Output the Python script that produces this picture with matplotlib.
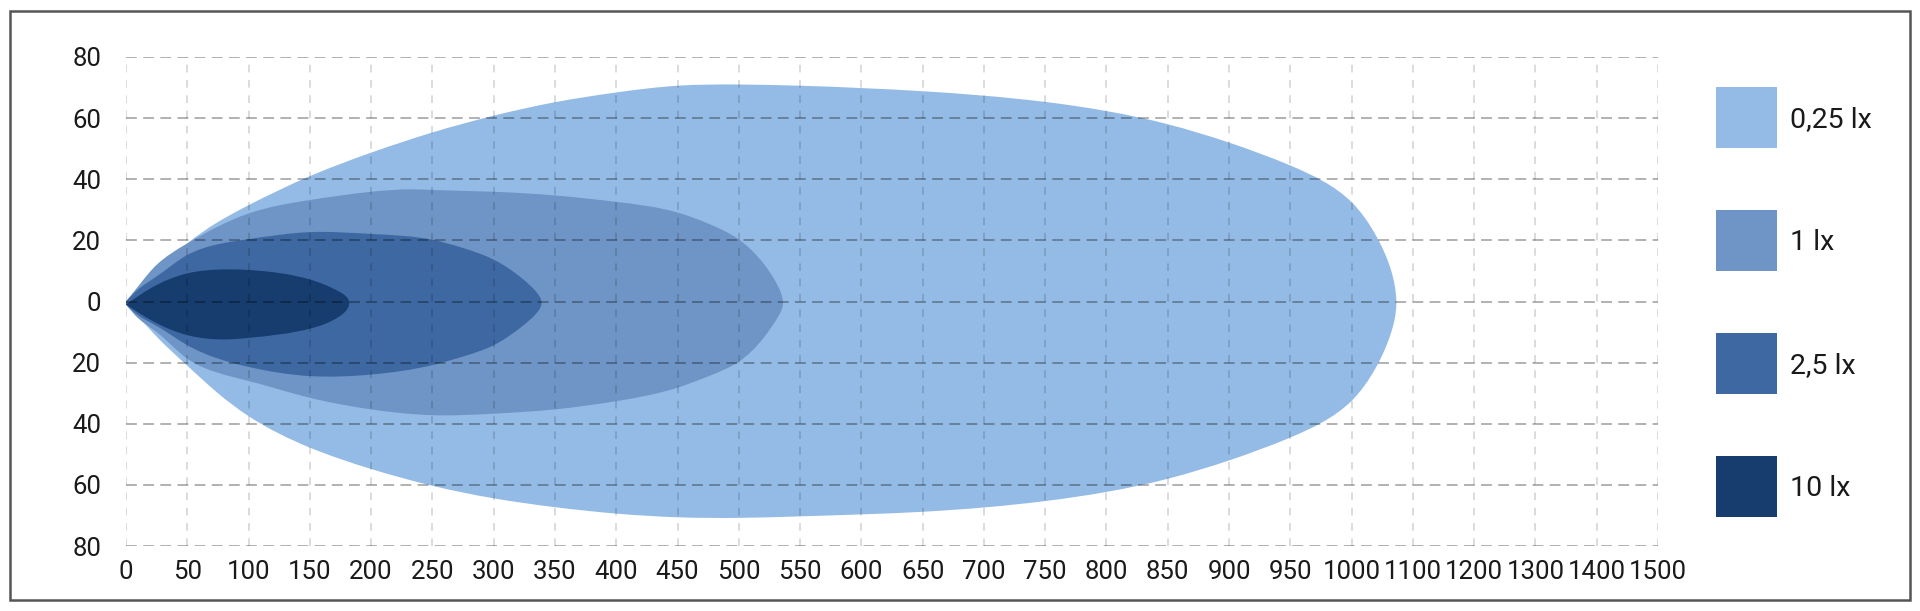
import numpy as np
import matplotlib
matplotlib.use("Agg")
import matplotlib.pyplot as plt
from matplotlib.patches import Rectangle, PathPatch
from matplotlib.path import Path

# ---------------- data ----------------
levels = ["0,25 lx", "1 lx", "2,5 lx", "10 lx"]
colors = ["#94bbe5", "#6e95c5", "#3d68a1", "#173c6e"]

# 0,25 lx isolux contour
lx025_top_x = [0, 10, 25, 50, 75, 100, 150, 200, 250, 300, 350, 400, 450, 500, 550, 650,
               750, 850, 900, 950, 1000, 1040, 1064, 1073]
lx025_top_y = [0, 4.5, 10, 19, 26, 31.5, 41, 48.7, 55.3, 60.8, 65.2, 68.4, 70.6, 71, 70.6, 68.8,
               65.3, 58.0, 52.0, 44.5, 32.5, 21.5, 10.5, 0]
lx025_bot_x = [0, 10, 25, 50, 75, 100, 150, 200, 250, 300, 350, 400, 450, 500, 550, 650,
               750, 850, 900, 950, 1000, 1040, 1064, 1073]
lx025_bot_y = [-1, -5, -11.5, -21, -30, -37.5, -47.8, -54.8, -60.3, -64.4, -67.3, -69.4, -70.6, -70.8, -70.3, -68.8,
               -65.3, -58.0, -52.0, -44.5, -32.5, -21.5, -10.5, -1]

# 1 lx isolux contour
lx1_top_x = [0, 10, 25, 50, 100, 150, 200, 233, 250, 300, 350, 400, 450, 475, 500, 520, 532, 536]
lx1_top_y = [0, 5, 12, 19, 28.8, 33.2, 35.9, 36.7, 36.5, 35.9, 34.7, 32.6, 29.1, 25.5, 20.3, 12.5, 5, 0]
lx1_bot_x = [0, 10, 25, 50, 100, 150, 200, 250, 300, 350, 400, 450, 475, 500, 520, 532, 536]
lx1_bot_y = [-1, -5.5, -10, -18.7, -26, -31.5, -35.3, -37.2, -36.7, -35.3, -32.6, -28.2, -24.5, -19.7, -12, -5, -1]

# 2,5 lx isolux contour
lx25_top_x = [0, 10, 25, 50, 100, 150, 200, 250, 275, 300, 323, 335, 339]
lx25_top_y = [0, 4, 8.2, 15.2, 20.4, 22.7, 22.1, 20.2, 17.5, 13.7, 7.6, 3, 0]
lx25_bot_x = [0, 10, 25, 50, 100, 150, 200, 250, 275, 300, 323, 335, 339]
lx25_bot_y = [-1, -4.5, -8, -14.3, -21.4, -24.4, -23.9, -20.8, -18, -14.3, -8.2, -3.8, -0.8]

# 10 lx isolux contour
lx10_top_x = [0, 20, 50, 82, 100, 150, 174, 182]
lx10_top_y = [-1, 4.3, 9.2, 10.5, 10.3, 7.2, 3.2, 0]
lx10_bot_x = [0, 20, 50, 82, 100, 150, 174, 182]
lx10_bot_y = [-1, -6, -11, -12.4, -11.9, -8.9, -4.9, -1]

x_ticks = [0, 50, 100, 150, 200, 250, 300, 350, 400, 450, 500, 550, 600, 650, 700, 750, 800,
           850, 900, 950, 1000, 1100, 1200, 1300, 1400, 1500]
y_ticks = [80, 60, 40, 20, 0, -20, -40, -60, -80]
y_tick_labels = ["80", "60", "40", "20", "0", "20", "40", "60", "80"]

contours = [
    (lx025_top_x, lx025_top_y, lx025_bot_x, lx025_bot_y),
    (lx1_top_x, lx1_top_y, lx1_bot_x, lx1_bot_y),
    (lx25_top_x, lx25_top_y, lx25_bot_x, lx25_bot_y),
    (lx10_top_x, lx10_top_y, lx10_bot_x, lx10_bot_y),
]


def fwd(x):
    x = np.asarray(x, dtype=float)
    return np.where(x <= 1000, x, 1000 + (x - 1000) / 2.0)


def inv(x):
    x = np.asarray(x, dtype=float)
    return np.where(x <= 1000, x, 1000 + (x - 1000) * 2.0)


Y_ASPECT = 3.056 / 1.2256  # pixel size of one y unit relative to one x unit


def spline_derivs(t, v):
    """First derivatives at the knots of a natural cubic spline through (t, v)."""
    n = len(t)
    h = np.diff(t)
    A = np.zeros((n, n))
    r = np.zeros(n)
    A[0, 0] = A[-1, -1] = 1.0
    for i in range(1, n - 1):
        A[i, i - 1] = h[i - 1]
        A[i, i] = 2 * (h[i - 1] + h[i])
        A[i, i + 1] = h[i]
        r[i] = 6 * ((v[i + 1] - v[i]) / h[i] - (v[i] - v[i - 1]) / h[i - 1])
    M = np.linalg.solve(A, r)
    d = np.zeros(n)
    d[:-1] = (v[1:] - v[:-1]) / h - h * (2 * M[:-1] + M[1:]) / 6
    d[-1] = (v[-1] - v[-2]) / h[-1] + h[-1] * (M[-2] + 2 * M[-1]) / 6
    return d


def smooth_path(xs, ys):
    """Smooth closed outline through the read points (natural cubic spline as Beziers)."""
    p = np.column_stack([fwd(xs), np.asarray(ys, float)])
    q = p * np.array([1.0, Y_ASPECT])
    t = np.concatenate([[0], np.cumsum(np.sqrt(((q[1:] - q[:-1]) ** 2).sum(axis=1)))])
    dx = spline_derivs(t, p[:, 0])
    dy = spline_derivs(t, p[:, 1])
    tang = np.column_stack([dx, dy])
    verts = [p[0]]
    codes = [Path.MOVETO]
    for i in range(len(p) - 1):
        h = t[i + 1] - t[i]
        verts += [p[i] + tang[i] * h / 3.0, p[i + 1] - tang[i + 1] * h / 3.0, p[i + 1]]
        codes += [Path.CURVE4] * 3
    verts.append(p[0])
    codes.append(Path.CLOSEPOLY)
    v = np.array(verts)
    v[:, 0] = inv(v[:, 0])
    return Path(v, codes)


# ---------------- figure ----------------
plt.rcParams['font.family'] = ['Roboto', 'DejaVu Sans']
fig = plt.figure(figsize=(19.2, 6.11), dpi=100)
ax = fig.add_axes([126 / 1920, 65 / 611, 1532 / 1920, 489 / 611])
ax.set_xscale('function', functions=(fwd, inv))

for (tx, ty, bx, by), col in zip(contours, colors):
    xs = list(tx) + list(bx[::-1])
    ys = list(ty) + list(by[::-1])
    ax.add_patch(PathPatch(smooth_path(xs, ys), facecolor=col, edgecolor='none', linewidth=0, zorder=1))

ax.set_xlim(0, 1500)
ax.set_ylim(-80, 80)
ax.set_xticks(x_ticks)
ax.set_xticklabels([str(t) for t in x_ticks])
ax.set_yticks(y_ticks)
ax.set_yticklabels(y_tick_labels)
ax.tick_params(axis='both', length=0, labelsize=18.5, colors='#1a1a1a')
ax.tick_params(axis='y', pad=18)
ax.tick_params(axis='x', pad=10)
for s in ax.spines.values():
    s.set_visible(False)

ax.set_axisbelow(False)
ax.grid(axis='y', color='black', alpha=0.33, linewidth=1.3, linestyle=(0, (6, 3.5)), zorder=3)
ax.grid(axis='x', color='black', alpha=0.18, linewidth=1.1, linestyle=(0, (5, 5)), zorder=3)

# legend (drawn as figure patches + texts)
W, H = 1920.0, 611.0
sq_left, sq_size, first_top, step = 1716, 61, 87, 123
for i, (lab, col) in enumerate(zip(levels, colors)):
    top = first_top + i * step
    fig.add_artist(Rectangle((sq_left / W, 1 - (top + sq_size) / H), sq_size / W, sq_size / H,
                             transform=fig.transFigure, facecolor=col, edgecolor='none'))
    fig.text((sq_left + sq_size + 13) / W, 1 - (top + sq_size / 2 + 2) / H, lab,
             fontsize=20.5, color='#1a1a1a', ha='left', va='center')

fig.add_artist(Rectangle((10 / W, 11 / H), 1900 / W, 589 / H, transform=fig.transFigure,
                         fill=False, edgecolor='#555555', linewidth=1.8))

fig.savefig("out.png", dpi=100, facecolor='white')
